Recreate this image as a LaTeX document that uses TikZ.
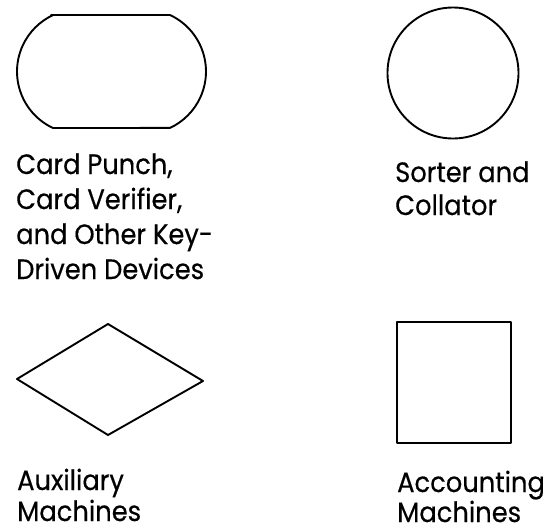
\documentclass[tikz,border=0pt]{standalone}
\usepackage{fontspec}
\setmainfont{Poppins}[FakeStretch=0.92,FakeBold=0.4]
\begin{document}
\begin{tikzpicture}[x=1pt,y=-1pt,
  shp/.style={draw=black,line width=1.9pt,line join=round},
  lbl/.style={anchor=base west,inner sep=0pt,font=\fontsize{28}{31}\selectfont}]
\useasboundingbox (0,0) rectangle (550,531);
% card punch shape
\draw[shp] (51,15) -- (170,15) arc[start angle=-65,end angle=65,radius=62.3]
  -- (53,128) arc[start angle=115,end angle=245,radius=62.3] -- cycle;
% circle
\draw[shp] (453,73) circle[radius=65.5];
% diamond
\draw[shp] (108,324) -- (203,381) -- (108,435) -- (17,379) -- cycle;
% square
\draw[shp] (397,322) rectangle (511,443);
% labels
\node[lbl] (cp1) at (16,174) {Card Punch,};
\node[lbl] (cp2) at (16,209) {Card Verifier,};
\node[lbl] (cp3) at (16,244) {and Other Key-};
\node[lbl] (cp4) at (16,279) {Driven Devices};
\node[lbl] (sc1) at (395,182) {Sorter and};
\node[lbl] (sc2) at (395,215) {Collator};
\node[lbl] (ax1) at (17,490) {Auxiliary};
\node[lbl] (ax2) at (17,521) {Machines};
\node[lbl] (ac1) at (397,492) {Accounting};
\node[lbl] (ac2) at (397,522) {Machines};
\end{tikzpicture}
\end{document}
